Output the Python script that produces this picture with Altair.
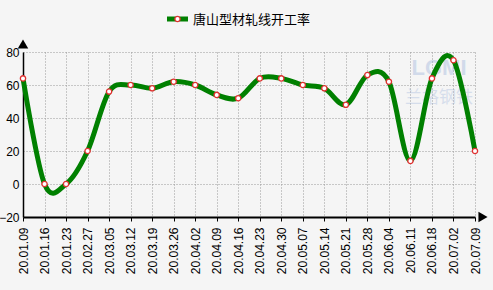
import altair as alt
import pandas as pd

dates = ["20.01.09","20.01.16","20.01.23","20.02.27","20.03.05","20.03.12","20.03.19",
         "20.03.26","20.04.02","20.04.09","20.04.16","20.04.23","20.04.30","20.05.07",
         "20.05.14","20.05.21","20.05.28","20.06.04","20.06.11","20.06.18","20.07.02","20.07.09"]
values = [64, 0, 0, 20, 56, 60, 58, 62, 60, 54, 52, 64, 64, 60, 58, 48, 66, 62, 14, 64, 75, 20]
series_name = "唐山型材轧线开工率"
y_ticks = [-20, 0, 20, 40, 60, 80]

df = pd.DataFrame({"date": dates, "value": values})

FONT = "Liberation Sans"

x_enc = alt.X("date:N", sort=dates, scale=alt.Scale(type="point", padding=0),
              axis=alt.Axis(title=None, labelAngle=-90, labelAlign="right", labelBaseline="middle",
                            labelFont=FONT, labelFontSize=12, labelColor="#000",
                            labelPadding=6, tickSize=4, tickColor="#000", labelOverlap=False,
                            domainColor="#000", domainWidth=2,
                            grid=True, gridColor="#999", gridDash=[1, 2], gridWidth=1))
y_enc = alt.Y("value:Q", scale=alt.Scale(domain=[-20, 80], nice=False, zero=False),
              axis=alt.Axis(title=None, values=y_ticks, labelFont=FONT, labelFontSize=12,
                            labelColor="#000", labelPadding=4, ticks=False,
                            labelOverlap=False, labelFlush=False,
                            domainColor="#000", domainWidth=1.5,
                            grid=True, gridColor="#999", gridDash=[1, 2], gridWidth=1))

base = alt.Chart(df).encode(x=x_enc, y=y_enc)
line = base.mark_line(color="#008000", strokeWidth=5, interpolate="cardinal", clip=False)
pts = base.mark_point(shape="circle", size=28, filled=True, fill="white", stroke="#e03030",
                      strokeWidth=1.3, opacity=1)

# decorations: axis arrows, legend, watermark
one = pd.DataFrame({"a": [0]})
up_arrow = alt.Chart(one).mark_point(
    shape="triangle-up", filled=True, color="#000", size=110, opacity=1
).encode(x=alt.value(0), y=alt.value(-8))
right_arrow = alt.Chart(one).mark_point(
    shape="triangle-right", filled=True, color="#000", size=110, opacity=1
).encode(x=alt.value(460), y=alt.value(165))

leg_line = alt.Chart(one).mark_rule(color="#008000", strokeWidth=5).encode(
    x=alt.value(144), x2=alt.value(165), y=alt.value(-33))
leg_pt = alt.Chart(one).mark_point(
    shape="circle", size=28, filled=True, fill="white", stroke="#e03030", strokeWidth=1.3, opacity=1
).encode(x=alt.value(154.5), y=alt.value(-33))
leg_txt = alt.Chart(pd.DataFrame({"t": [series_name]})).mark_text(
    align="left", baseline="middle", font="Noto Sans CJK SC", fontSize=13, color="#000"
).encode(x=alt.value(170), y=alt.value(-32), text="t:N")

wm1 = alt.Chart(pd.DataFrame({"t": ["LGMI"]})).mark_text(
    font=FONT, fontSize=22, fontWeight="bold", color="#8fa9d6", opacity=0.35, align="center", baseline="middle"
).encode(x=alt.value(416), y=alt.value(16), text="t:N")
wm2 = alt.Chart(pd.DataFrame({"t": ["兰格钢铁"]})).mark_text(
    font="Noto Sans CJK SC", fontSize=17, color="#8fa9d6", opacity=0.3, align="center", baseline="middle"
).encode(x=alt.value(416), y=alt.value(46), text="t:N")

chart = alt.layer(wm1, wm2, line, pts, up_arrow, right_arrow, leg_line, leg_pt, leg_txt).properties(
    width=452, height=165,
    autosize=alt.AutoSizeParams(type="none"),
    padding={"left": 23, "top": 52, "right": 18, "bottom": 73},
    background="#f5f5f5",
).configure_view(stroke=None)

chart.save("out.html", embed_options={"renderer": "svg", "actions": False})
